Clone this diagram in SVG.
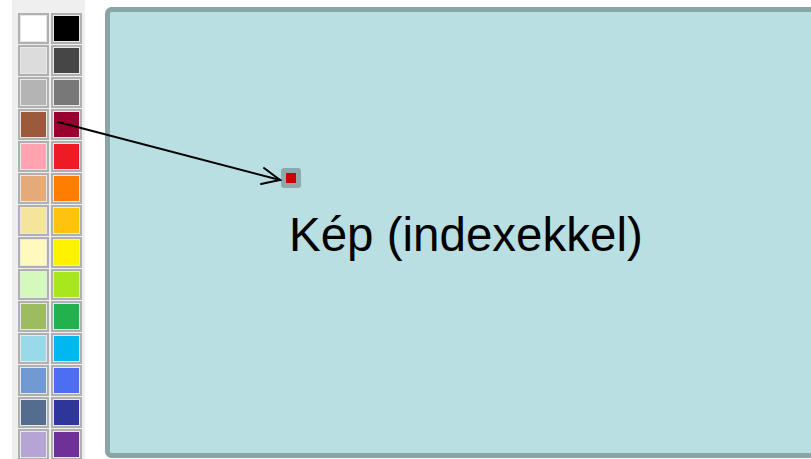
<svg xmlns="http://www.w3.org/2000/svg" width="811" height="459" viewBox="0 0 811 459">
<style>
.fr{fill:#b0b0b0}
.sw{stroke:#e8e8e8;stroke-width:1}
.lbl{font-family:"Liberation Sans",Arial,sans-serif;font-size:47.5px;fill:#000}
</style>
<defs>
<g id="cellframe"><rect class="fr" x="-2" y="-2" width="31" height="31"/></g>
</defs>
<rect width="811" height="459" fill="#ffffff"/>
<g id="palette">
<rect x="12" y="0" width="73" height="459" fill="#efefef"/>
<g id="swatches">
<g transform="translate(20,15)"><use href="#cellframe"/><rect class="sw" x="0.5" y="0.5" width="26" height="26" fill="#ffffff"/></g>
<g transform="translate(53,15)"><use href="#cellframe"/><rect class="sw" x="0.5" y="0.5" width="26" height="26" fill="#000000"/></g>
<g transform="translate(20,47)"><use href="#cellframe"/><rect class="sw" x="0.5" y="0.5" width="26" height="26" fill="#dcdcdc"/></g>
<g transform="translate(53,47)"><use href="#cellframe"/><rect class="sw" x="0.5" y="0.5" width="26" height="26" fill="#464646"/></g>
<g transform="translate(20,79)"><use href="#cellframe"/><rect class="sw" x="0.5" y="0.5" width="26" height="26" fill="#b4b4b4"/></g>
<g transform="translate(53,79)"><use href="#cellframe"/><rect class="sw" x="0.5" y="0.5" width="26" height="26" fill="#787878"/></g>
<g transform="translate(20,111)"><use href="#cellframe"/><rect class="sw" x="0.5" y="0.5" width="26" height="26" fill="#9c5a3c"/></g>
<g transform="translate(53,111)"><use href="#cellframe"/><rect class="sw" x="0.5" y="0.5" width="26" height="26" fill="#990030"/></g>
<g transform="translate(20,143)"><use href="#cellframe"/><rect class="sw" x="0.5" y="0.5" width="26" height="26" fill="#ffa3b1"/></g>
<g transform="translate(53,143)"><use href="#cellframe"/><rect class="sw" x="0.5" y="0.5" width="26" height="26" fill="#ed1c24"/></g>
<g transform="translate(20,175)"><use href="#cellframe"/><rect class="sw" x="0.5" y="0.5" width="26" height="26" fill="#e5aa7a"/></g>
<g transform="translate(53,175)"><use href="#cellframe"/><rect class="sw" x="0.5" y="0.5" width="26" height="26" fill="#ff7e00"/></g>
<g transform="translate(20,207)"><use href="#cellframe"/><rect class="sw" x="0.5" y="0.5" width="26" height="26" fill="#f5e49c"/></g>
<g transform="translate(53,207)"><use href="#cellframe"/><rect class="sw" x="0.5" y="0.5" width="26" height="26" fill="#ffc20e"/></g>
<g transform="translate(20,239)"><use href="#cellframe"/><rect class="sw" x="0.5" y="0.5" width="26" height="26" fill="#fff9bd"/></g>
<g transform="translate(53,239)"><use href="#cellframe"/><rect class="sw" x="0.5" y="0.5" width="26" height="26" fill="#fff200"/></g>
<g transform="translate(20,271)"><use href="#cellframe"/><rect class="sw" x="0.5" y="0.5" width="26" height="26" fill="#d3f9bc"/></g>
<g transform="translate(53,271)"><use href="#cellframe"/><rect class="sw" x="0.5" y="0.5" width="26" height="26" fill="#a8e61d"/></g>
<g transform="translate(20,303)"><use href="#cellframe"/><rect class="sw" x="0.5" y="0.5" width="26" height="26" fill="#9dbb61"/></g>
<g transform="translate(53,303)"><use href="#cellframe"/><rect class="sw" x="0.5" y="0.5" width="26" height="26" fill="#22b14c"/></g>
<g transform="translate(20,335)"><use href="#cellframe"/><rect class="sw" x="0.5" y="0.5" width="26" height="26" fill="#99d9ea"/></g>
<g transform="translate(53,335)"><use href="#cellframe"/><rect class="sw" x="0.5" y="0.5" width="26" height="26" fill="#00b7ef"/></g>
<g transform="translate(20,367)"><use href="#cellframe"/><rect class="sw" x="0.5" y="0.5" width="26" height="26" fill="#709ad1"/></g>
<g transform="translate(53,367)"><use href="#cellframe"/><rect class="sw" x="0.5" y="0.5" width="26" height="26" fill="#4d6df3"/></g>
<g transform="translate(20,399)"><use href="#cellframe"/><rect class="sw" x="0.5" y="0.5" width="26" height="26" fill="#546d8e"/></g>
<g transform="translate(53,399)"><use href="#cellframe"/><rect class="sw" x="0.5" y="0.5" width="26" height="26" fill="#2f3699"/></g>
<g transform="translate(20,431)"><use href="#cellframe"/><rect class="sw" x="0.5" y="0.5" width="26" height="26" fill="#b5a5d5"/></g>
<g transform="translate(53,431)"><use href="#cellframe"/><rect class="sw" x="0.5" y="0.5" width="26" height="26" fill="#6f3198"/></g>
</g>
</g>
<g id="image">
<rect x="107.5" y="9.5" width="720" height="446" rx="4" fill="#b9dfe2" stroke="#8aa5a6" stroke-width="5"/>
<text class="lbl" x="289" y="251">Kép (indexekkel)</text>
</g>
<g id="pixel">
<rect x="281" y="168" width="20" height="20" rx="3" fill="#8fa8aa"/>
<rect x="286" y="173" width="10" height="10" fill="#cc0000"/>
</g>
<g id="connectors" fill="none" stroke="#000" stroke-width="2" stroke-linecap="round">
<path d="M58,122 L280,180"/>
<path d="M264,168 L280,180 L261,184"/>
</g>
</svg>
